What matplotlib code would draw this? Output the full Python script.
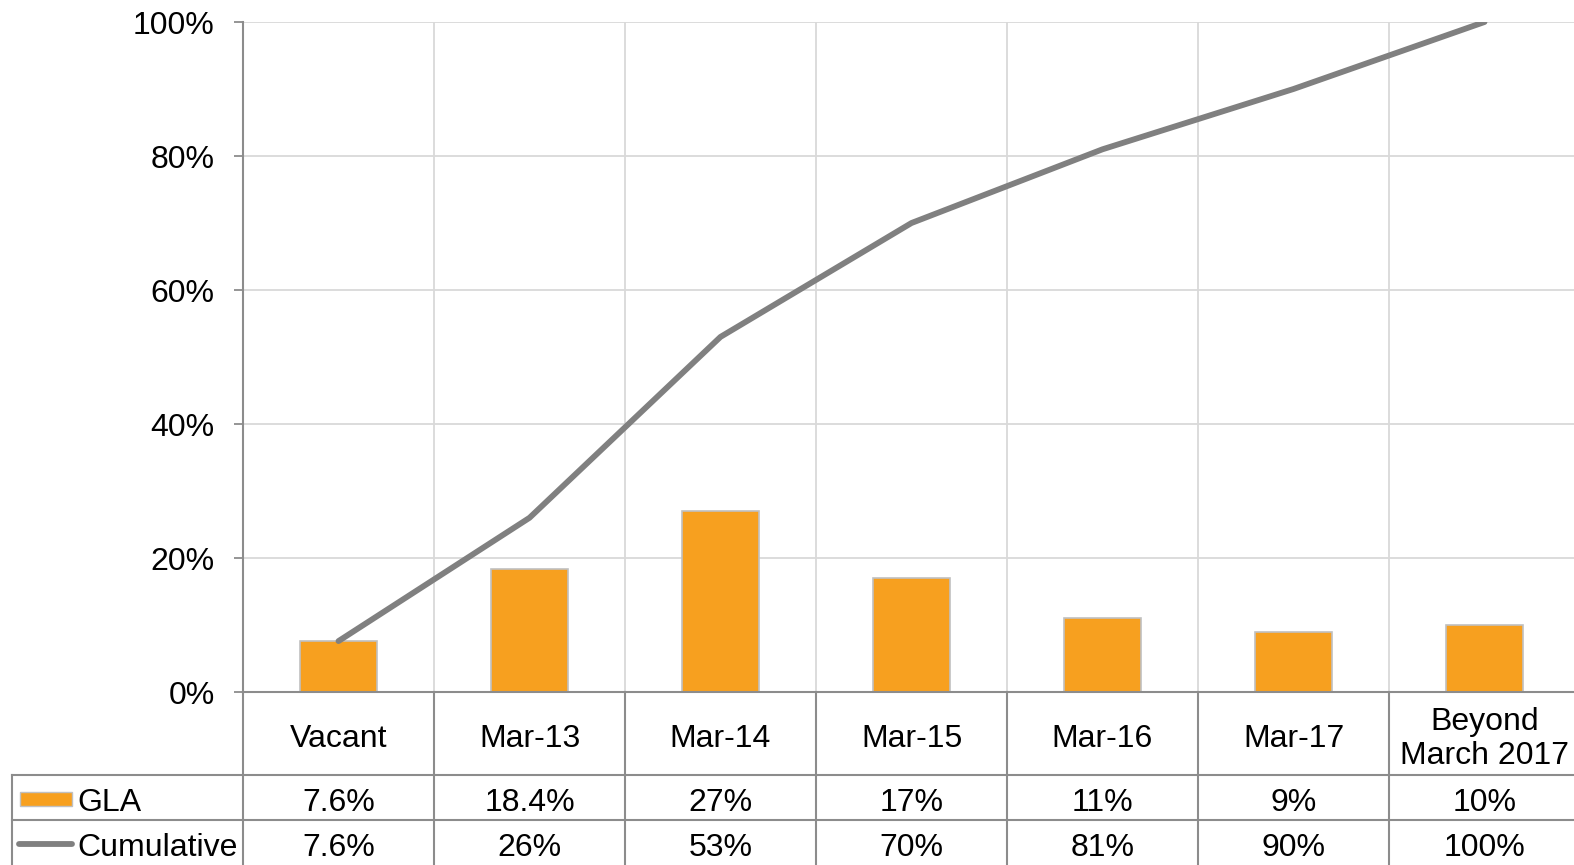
import matplotlib
matplotlib.use('Agg')
import matplotlib.pyplot as plt
from matplotlib.lines import Line2D
from matplotlib.patches import Rectangle

plt.rcParams['font.family'] = ['Liberation Sans', 'DejaVu Sans']

categories = ['Vacant', 'Mar-13', 'Mar-14', 'Mar-15', 'Mar-16', 'Mar-17', 'Beyond\nMarch 2017']
gla = [7.6, 18.4, 27, 17, 11, 9, 10]
cumulative = [7.6, 26, 53, 70, 81, 90, 100]
gla_labels = ['7.6%', '18.4%', '27%', '17%', '11%', '9%', '10%']
cum_labels = ['7.6%', '26%', '53%', '70%', '81%', '90%', '100%']
yticks = [0, 20, 40, 60, 80, 100]

W, H = 1574, 865
fig = plt.figure(figsize=(W / 100, H / 100), dpi=100)

ORANGE = '#F7A01F'
LINE = '#808080'
AXIS = '#8c8c8c'
GRID = '#d9d9d9'
FS = 23

# pixel layout
x0, cw = 243, 191
x_end = x0 + cw * len(categories)
y_top, y_zero = 22, 692

def fx(px):
    return px / W

def fy(py):
    return 1 - py / H

ax = fig.add_axes([fx(x0), fy(y_zero), fx(x_end) - fx(x0), fy(y_top) - fy(y_zero)])
xs = [i + 0.5 for i in range(len(categories))]
ax.bar(xs, gla, width=0.4, color=ORANGE, edgecolor='#c0c0c0', linewidth=1.2, zorder=2)
ax.plot(xs, cumulative, color=LINE, linewidth=4.2, solid_capstyle='round', zorder=3)
ax.set_xlim(0, len(categories))
ax.set_ylim(0, 100)
ax.set_yticks(yticks)
ax.set_yticklabels([f'{v}%' for v in yticks], fontsize=FS)
ax.set_xticks(range(len(categories) + 1))
ax.set_xticklabels([])
ax.tick_params(axis='x', length=0)
ax.tick_params(axis='y', length=6.5, width=1.3, color=AXIS, pad=14)
ax.grid(True, color=GRID, linewidth=1.3, zorder=0)
for s in ['top', 'right']:
    ax.spines[s].set_visible(False)
ax.spines['left'].set_color(AXIS)
ax.spines['left'].set_linewidth(1.5)
ax.spines['bottom'].set_color(AXIS)
ax.spines['bottom'].set_linewidth(1.5)
ax.set_axisbelow(True)

# data table below the plot
row1, row2, row3 = 775, 820, 866
lx = 12

def hline(py, a, b):
    fig.add_artist(Line2D([fx(a), fx(b)], [fy(py), fy(py)], color=AXIS, linewidth=1.5))

def vline(px, a, b):
    fig.add_artist(Line2D([fx(px), fx(px)], [fy(a), fy(b)], color=AXIS, linewidth=1.5))

hline(row1, lx, x_end)
hline(row2, lx, x_end)
vline(lx, row1, row3)
for i in range(len(categories) + 1):
    vline(x0 + cw * i, y_zero, row3)

for i, c in enumerate(categories):
    cx = fx(x0 + cw * (i + 0.5))
    fig.text(cx, fy(739), c, ha='center', va='center', fontsize=FS, linespacing=1.17)
    fig.text(cx, fy(803), gla_labels[i], ha='center', va='center', fontsize=FS)
    fig.text(cx, fy(848), cum_labels[i], ha='center', va='center', fontsize=FS)

# legend keys in the table
fig.add_artist(Rectangle((fx(20), fy(806)), fx(72) - fx(20), fy(792) - fy(806),
                         facecolor=ORANGE, edgecolor='#c0c0c0', linewidth=1))
fig.add_artist(Line2D([fx(19), fx(72)], [fy(844), fy(844)], color=LINE, linewidth=4.2,
                      solid_capstyle='round'))
fig.text(fx(77), fy(803), 'GLA', ha='left', va='center', fontsize=FS)
fig.text(fx(77), fy(848), 'Cumulative', ha='left', va='center', fontsize=FS)

fig.savefig('out.png', dpi=100)
